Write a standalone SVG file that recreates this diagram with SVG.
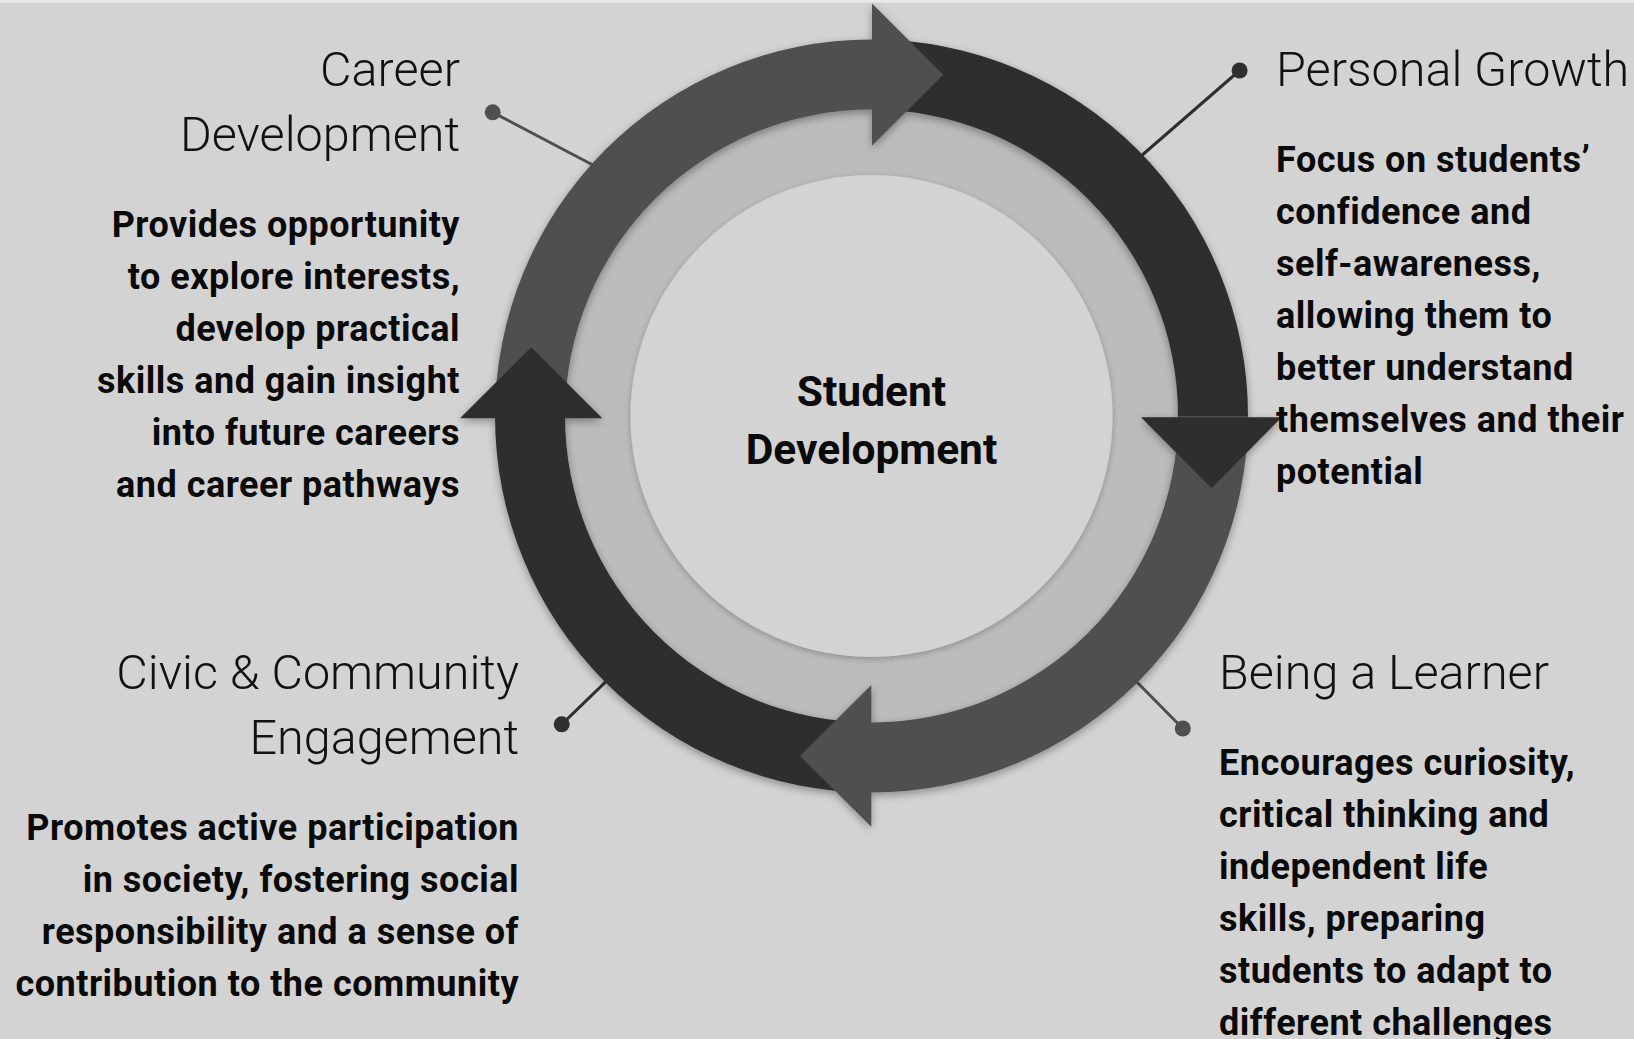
<svg xmlns="http://www.w3.org/2000/svg" width="1634" height="1039" viewBox="0 0 1634 1039">
  <defs>
    <style>
      .title { font-family: Roboto, "Liberation Sans", sans-serif; font-weight: 300; font-size: 48.5px; fill: #111; }
      .body { font-family: Roboto, "Liberation Sans", sans-serif; font-weight: 700; font-size: 36px; letter-spacing: 0.5px; fill: #0a0a0a; }
      .center { font-family: Roboto, "Liberation Sans", sans-serif; font-weight: 700; font-size: 42.5px; fill: #0a0a0a; text-anchor: middle; }
      .mid { fill: #4f4f4f; }
      .dark { fill: #2f2f2f; }
      .lnMid { stroke: #4f4f4f; stroke-width: 3; fill: none; }
      .lnDark { stroke: #2f2f2f; stroke-width: 3; fill: none; }
    </style>
    <filter id="sh" x="-20%" y="-20%" width="140%" height="140%">
      <feDropShadow dx="0" dy="3" stdDeviation="4" flood-color="#000" flood-opacity="0.35"/>
    </filter>
    <filter id="shs" x="-20%" y="-20%" width="140%" height="140%">
      <feDropShadow dx="0" dy="2" stdDeviation="3" flood-color="#000" flood-opacity="0.25"/>
    </filter>
  </defs>
  <rect x="0" y="0" width="1634" height="1039" fill="#d3d3d3"/>
  <rect x="0" y="0" width="1634" height="2.5" fill="#ebebeb"/>

  <g id="connectors">
    <line class="lnMid" x1="492.7" y1="112.3" x2="610" y2="174"/>
    <circle cx="492.7" cy="112.3" r="8" fill="#4f4f4f"/>
    <line class="lnDark" x1="1239.6" y1="70.5" x2="1125" y2="170"/>
    <circle cx="1239.6" cy="70.5" r="8" fill="#2f2f2f"/>
    <line class="lnDark" x1="561.7" y1="724.3" x2="620" y2="668"/>
    <circle cx="561.7" cy="724.3" r="8" fill="#2f2f2f"/>
    <line class="lnMid" x1="1182.8" y1="728.5" x2="1125" y2="670"/>
    <circle cx="1182.8" cy="728.5" r="8" fill="#4f4f4f"/>
  </g>

  <g id="hub">
    <circle cx="871.5" cy="416" r="306.5" fill="#bcbcbc"/>
    <circle cx="871.5" cy="416" r="241" fill="#d3d3d3" filter="url(#shs)"/>
    <text class="center" x="871.5" y="406">Student</text>
    <text class="center" x="871.5" y="464">Development</text>
  </g>

  <g id="ring" filter="url(#sh)">
    <path class="mid" d="M495,416 A376.5,376.5 0 0 1 871.5,39.5 L871.5,109.5 A306.5,306.5 0 0 0 565,416 Z"/>
    <path class="dark" d="M871.5,39.5 A376.5,376.5 0 0 1 1248,416 L1178,416 A306.5,306.5 0 0 0 871.5,109.5 Z"/>
    <path class="mid" d="M1248,416 A376.5,376.5 0 0 1 871.5,792.5 L871.5,722.5 A306.5,306.5 0 0 0 1178,416 Z"/>
    <path class="dark" d="M871.5,792.5 A376.5,376.5 0 0 1 495,416 L565,416 A306.5,306.5 0 0 0 871.5,722.5 Z"/>
    <polygon class="mid" points="872,3.5 943.3,74.7 872,145.7"/>
    <polygon class="dark" points="1141,417.3 1281.7,417.3 1211.5,488.3"/>
    <polygon class="mid" points="871.3,685 871.3,826.7 800,756"/>
    <polygon class="dark" points="460,418.3 602.3,418.3 531.2,347.3"/>
  </g>

  <g id="career" text-anchor="end">
    <text class="title" x="460" y="86">Career</text>
    <text class="title" x="460" y="151">Development</text>
    <text class="body" x="460" y="237">Provides opportunity</text>
    <text class="body" x="460" y="289">to explore interests,</text>
    <text class="body" x="460" y="341">develop practical</text>
    <text class="body" x="460" y="393">skills and gain insight</text>
    <text class="body" x="460" y="445">into future careers</text>
    <text class="body" x="460" y="497">and career pathways</text>
  </g>

  <g id="personal">
    <text class="title" x="1276" y="86">Personal Growth</text>
    <text class="body" x="1276" y="172">Focus on students’</text>
    <text class="body" x="1276" y="224">confidence and</text>
    <text class="body" x="1276" y="276">self-awareness,</text>
    <text class="body" x="1276" y="328">allowing them to</text>
    <text class="body" x="1276" y="380">better understand</text>
    <text class="body" x="1276" y="432">themselves and their</text>
    <text class="body" x="1276" y="484">potential</text>
  </g>

  <g id="civic" text-anchor="end">
    <text class="title" x="519" y="689">Civic &amp; Community</text>
    <text class="title" x="519" y="754">Engagement</text>
    <text class="body" x="519" y="840">Promotes active participation</text>
    <text class="body" x="519" y="892">in society, fostering social</text>
    <text class="body" x="519" y="944">responsibility and a sense of</text>
    <text class="body" x="519" y="996">contribution to the community</text>
  </g>

  <g id="learner">
    <text class="title" x="1219" y="689">Being a Learner</text>
    <text class="body" x="1219" y="775">Encourages curiosity,</text>
    <text class="body" x="1219" y="827">critical thinking and</text>
    <text class="body" x="1219" y="879">independent life</text>
    <text class="body" x="1219" y="931">skills, preparing</text>
    <text class="body" x="1219" y="983">students to adapt to</text>
    <text class="body" x="1219" y="1035">different challenges</text>
  </g>
</svg>
